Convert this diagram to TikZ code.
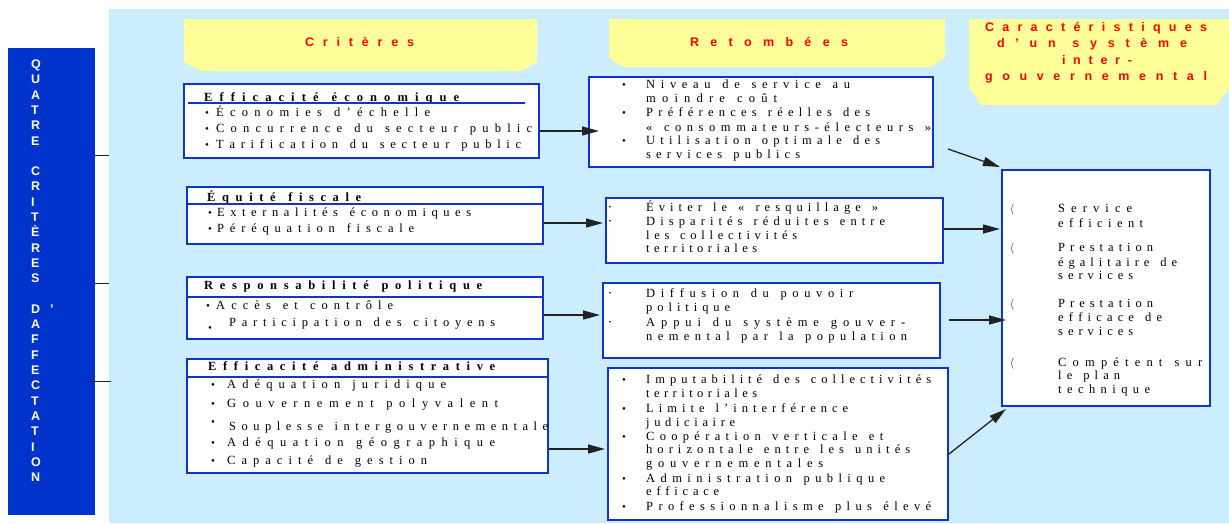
\documentclass[tikz,border=0pt]{standalone}
\usepackage{fontspec}
\setmainfont{Liberation Serif}
\newfontfamily\bodyfont{Liberation Serif}
\newfontfamily\hdrfont{Liberation Sans}
\newfontfamily\barfont{Liberation Sans}
\makeatletter
\def\sp@letters#1{\@tfor\sp@t:=#1\do{\hskip 0pt plus 1fil\relax\sp@t}}
\def\sp@words#1 #2\@nil{\sp@letters{#1}\if\relax\detokenize{#2}\relax\else\hskip 6pt\relax\sp@words#2\@nil\fi}
\newcommand\spread[2]{\makebox[#1pt][s]{\hskip 0pt plus -1fil\relax\sp@words#2 \@nil}}
\makeatother
\usetikzlibrary{arrows.meta}
\definecolor{panelblue}{HTML}{CCECFF}
\definecolor{barblue}{HTML}{0033CC}
\definecolor{hdryellow}{HTML}{FFFF99}
\definecolor{hdrred}{HTML}{FF0000}
\definecolor{boxblue}{HTML}{1033D0}
\definecolor{linkgray}{HTML}{222222}
\begin{document}
\begin{tikzpicture}[x=1pt,y=-1pt,
 box/.style={draw=boxblue,line width=2pt,fill=white,inner sep=0pt,anchor=north west},
 txt/.style={inner sep=0pt,anchor=base west,font=\bodyfont\fontsize{12.5}{14}\selectfont},
 ttl/.style={txt,font=\bodyfont\bfseries\fontsize{12.5}{14}\selectfont},
 bul/.style={inner sep=0pt,anchor=base,font=\bodyfont\fontsize{11}{13}\selectfont},
 sbul/.style={inner sep=0pt,anchor=base,font=\bodyfont\fontsize{7}{9}\selectfont},
 ang/.style={inner sep=0pt,anchor=base,font=\fontsize{11}{13}\selectfont},
 hdr/.style={inner sep=0pt,anchor=base,text=hdrred,font=\hdrfont\bfseries\fontsize{12.5}{15}\selectfont},
 hdrshape/.style={fill=hdryellow},
 barletter/.style={inner sep=0pt,anchor=base west,text=white,font=\barfont\bfseries\fontsize{12.5}{14}\selectfont},
 arr/.style={-{Triangle[length=17pt,width=9pt]},line width=1.3pt,draw=linkgray},
 sep/.style={draw=boxblue,line width=1.2pt},
 tick/.style={draw=linkgray,line width=1pt}
]
\useasboundingbox (0,0) rectangle (1229,523);
\fill[white] (0,0) rectangle (1229,523);
\fill[panelblue] (109,9) rectangle (1229,523);
% left bar
\fill[barblue] (8,48) rectangle (95,515);
\foreach \l/\i in {Q/1,U/2,A/3,T/4,R/5,E/6,C/8,R/9,I/10,T/11,È/12,R/13,E/14,S/15,D/17,A/18,F/19,F/20,E/21,C/22,T/23,A/24,T/25,I/26,O/27,N/28}
  \node[barletter] (bl\i) at (31,{68.5+15.3*(\i-1)}) {\l};
\node[barletter] (blap) at (50,{68.5+15.3*16}) {’};
\draw[tick] (95,155) -- (109,155);
\draw[tick] (95,283) -- (109,283);
\draw[tick] (88,381) -- (111,381);
% headers
\fill[hdrshape] (184,19) -- (537,19) -- (537,62) -- (521,71) -- (200,71) -- (184,62) -- cycle;
\node[hdr] (h1) at (359.5,46.5) {\spread{109}{Critères}};
\fill[hdrshape] (609,19) -- (945,19) -- (945,58) -- (930,67) -- (623,67) -- (609,58) -- cycle;
\node[hdr] (h2) at (769,46.5) {\spread{158}{Retombées}};
\fill[hdrshape] (969,19) -- (1229,19) -- (1229,88) -- (1217,105) -- (981,105) -- (969,88) -- cycle;
\node[hdr] (h3a) at (1096,31.5) {\spread{222}{Caractéristiques}};
\node[hdr] (h3b) at (1092,47.5) {\spread{190}{d’un système}};
\node[hdr] (h3c) at (1097,64) {\spread{70}{inter-}};
\node[hdr] (h3d) at (1096,80.5) {\spread{222}{gouvernemental}};
% criteria boxes
\node[box,minimum width=355pt,minimum height=74pt] (c1) at (183,83) {};
\node[box,minimum width=356pt,minimum height=57pt] (c2) at (186,186) {};
\node[box,minimum width=356pt,minimum height=62pt] (c3) at (186,276) {};
\node[box,minimum width=361pt,minimum height=114pt] (c4) at (186,358) {};
% retombees boxes
\node[box,minimum width=344pt,minimum height=90pt] (r1) at (588,76) {};
\node[box,minimum width=337pt,minimum height=65pt] (r2) at (605,197) {};
\node[box,minimum width=337pt,minimum height=75pt] (r3) at (602,282) {};
\node[box,minimum width=340pt,minimum height=152pt] (r4) at (607,367) {};
% result box
\node[box,minimum width=208pt,minimum height=236pt] (rb) at (1001,169) {};
% box 1
\node[ttl] (c1t) at (204,101) {\spread{255}{Efficacité économique}};
\draw[sep] (188,103) -- (525,103);
\node[bul] (c1b1) at (207,116) {•};
\node[txt] (c1i1) at (216,116) {\spread{214}{Économies d’échelle}};
\node[bul] (c1b2) at (207,132) {•};
\node[txt] (c1i2) at (216,132) {\spread{316}{Concurrence du secteur public}};
\node[bul] (c1b3) at (207,148) {•};
\node[txt] (c1i3) at (216,148) {\spread{305}{Tarification du secteur public}};
% box 2
\node[ttl] (c2t) at (207,201) {\spread{154}{Équité fiscale}};
\draw[sep] (c2.west |- 0,204) -- (c2.east |- 0,204);
\node[bul] (c2b1) at (210,216) {•};
\node[txt] (c2i1) at (217,216) {\spread{254}{Externalités économiques}};
\node[bul] (c2b2) at (210,232) {•};
\node[txt] (c2i2) at (217,232) {\spread{197}{Péréquation fiscale}};
% box 3
\node[ttl] (c3t) at (204,289) {\spread{278}{Responsabilité politique}};
\draw[sep] (c3.west |- 0,297) -- (c3.east |- 0,297);
\node[bul] (c3b1) at (208,309) {•};
\node[txt] (c3i1) at (216,309) {\spread{177}{Accès et contrôle}};
\node[bul] (c3b2) at (210,331) {•};
\node[txt] (c3i2) at (229,326) {\spread{266}{Participation des citoyens}};
% box 4
\node[ttl] (c4t) at (208,370) {\spread{287}{Efficacité administrative}};
\draw[sep] (c4.west |- 0,377) -- (c4.east |- 0,377);
\node[bul] (c4b1) at (213,388) {•};
\node[txt] (c4i1) at (227,388) {\spread{219}{Adéquation juridique}};
\node[bul] (c4b2) at (213,407) {•};
\node[txt] (c4i2) at (227,407) {\spread{271}{Gouvernement polyvalent}};
\node[bul] (c4b3) at (213,425) {•};
\node[txt] (c4i3) at (229,430) {\spread{319}{Souplesse intergouvernementale}};
\node[bul] (c4b4) at (213,446) {•};
\node[txt] (c4i4) at (227,446) {\spread{268}{Adéquation géographique}};
\node[bul] (c4b5) at (213,464) {•};
\node[txt] (c4i5) at (227,464) {\spread{200}{Capacité de gestion}};
% r1
\node[bul] (r1b1) at (624,88) {•};
\node[bul] (r1b2) at (624,116) {•};
\node[bul] (r1b3) at (624,144) {•};
\node[txt] (r1l1) at (646,88) {\spread{204}{Niveau de service au}};
\node[txt] (r1l2) at (646,102) {\spread{131}{moindre coût}};
\node[txt] (r1l3) at (646,116) {\spread{224}{Préférences réelles des}};
\node[txt] (r1l4) at (646,131) {\spread{285}{« consommateurs-électeurs »}};
\node[txt] (r1l5) at (646,144) {\spread{234}{Utilisation optimale des}};
\node[txt] (r1l6) at (646,158) {\spread{154}{services publics}};
% r2
\node[sbul] (r2b1) at (610,209) {•};
\node[sbul] (r2b2) at (610,223) {•};
\node[txt] (r2l1) at (646,211) {\spread{232}{Éviter le « resquillage »}};
\node[txt] (r2l2) at (646,225) {\spread{239}{Disparités réduites entre}};
\node[txt] (r2l3) at (646,239) {\spread{151}{les collectivités}};
\node[txt] (r2l4) at (646,252) {\spread{111}{territoriales}};
% r3
\node[sbul] (r3b1) at (610,295) {•};
\node[sbul] (r3b2) at (610,324) {•};
\node[txt] (r3l1) at (646,297) {\spread{207}{Diffusion du pouvoir}};
\node[txt] (r3l2) at (646,311) {\spread{84}{politique}};
\node[txt] (r3l3) at (646,326) {\spread{259}{Appui du système gouver-}};
\node[txt] (r3l4) at (646,340) {\spread{261}{nemental par la population}};
% r4
\node[bul] (r4b1) at (624,383) {•};
\node[bul] (r4b2) at (624,412) {•};
\node[bul] (r4b3) at (624,440) {•};
\node[bul] (r4b4) at (624,482) {•};
\node[bul] (r4b5) at (624,510) {•};
\node[txt] (r4l1) at (646,383) {\spread{285}{Imputabilité des collectivités}};
\node[txt] (r4l2) at (646,397) {\spread{111}{territoriales}};
\node[txt] (r4l3) at (646,412) {\spread{202}{Limite l’interférence}};
\node[txt] (r4l4) at (646,426) {\spread{89}{judiciaire}};
\node[txt] (r4l5) at (646,440) {\spread{237}{Coopération verticale et}};
\node[txt] (r4l6) at (646,453) {\spread{264}{horizontale entre les unités}};
\node[txt] (r4l7) at (646,467) {\spread{177}{gouvernementales}};
\node[txt] (r4l8) at (646,482) {\spread{239}{Administration publique}};
\node[txt] (r4l9) at (646,495) {\spread{73}{efficace}};
\node[txt] (r4l10) at (646,510) {\spread{285}{Professionnalisme plus élevé}};
% result box text
\node[ang] (rba1) at (1012,212) {$\langle$};
\node[ang] (rba2) at (1012,251) {$\langle$};
\node[ang] (rba3) at (1012,307) {$\langle$};
\node[ang] (rba4) at (1012,366) {$\langle$};
\node[txt] (rbl1) at (1058,212) {\spread{74}{Service}};
\node[txt] (rbl2) at (1058,227) {\spread{85}{efficient}};
\node[txt] (rbl3) at (1058,251) {\spread{95}{Prestation}};
\node[txt] (rbl4) at (1058,266) {\spread{119}{égalitaire de}};
\node[txt] (rbl5) at (1058,279) {\spread{75}{services}};
\node[txt] (rbl6) at (1058,307) {\spread{95}{Prestation}};
\node[txt] (rbl7) at (1058,321) {\spread{104}{efficace de}};
\node[txt] (rbl8) at (1058,335) {\spread{75}{services}};
\node[txt] (rbl9) at (1058,366) {\spread{144}{Compétent sur}};
\node[txt] (rbl10) at (1058,379) {\spread{62}{le plan}};
\node[txt] (rbl11) at (1058,393) {\spread{92}{technique}};
% arrows
\draw[arr] ([yshift=-10pt]c1.east) -- ([xshift=11pt,yshift=-9pt]r1.west);
\draw[arr] ([yshift=-7.5pt]c2.east) -- ([xshift=-2pt,yshift=7.5pt]r2.west);
\draw[arr] ([yshift=-7pt]c3.east) -- ([xshift=-2pt,yshift=5.5pt]r3.west);
\draw[arr] ([yshift=-33pt]c4.east) -- ([xshift=-2pt,yshift=-5pt]r4.west);
\draw[arr] ([xshift=14pt,yshift=-27pt]r1.east) -- ([xshift=-1pt,yshift=2pt]rb.north west);
\draw[arr] ([yshift=1.5pt]r2.east) -- ([xshift=-1pt,yshift=59pt]rb.west);
\draw[arr] ([xshift=8pt,yshift=0.5pt]r3.east) -- ([xshift=5pt,yshift=-32pt]rb.west);
\draw[arr] ([yshift=-10pt]r4.east) -- ([xshift=5pt,yshift=-2pt]rb.south west);
\end{tikzpicture}
\end{document}
